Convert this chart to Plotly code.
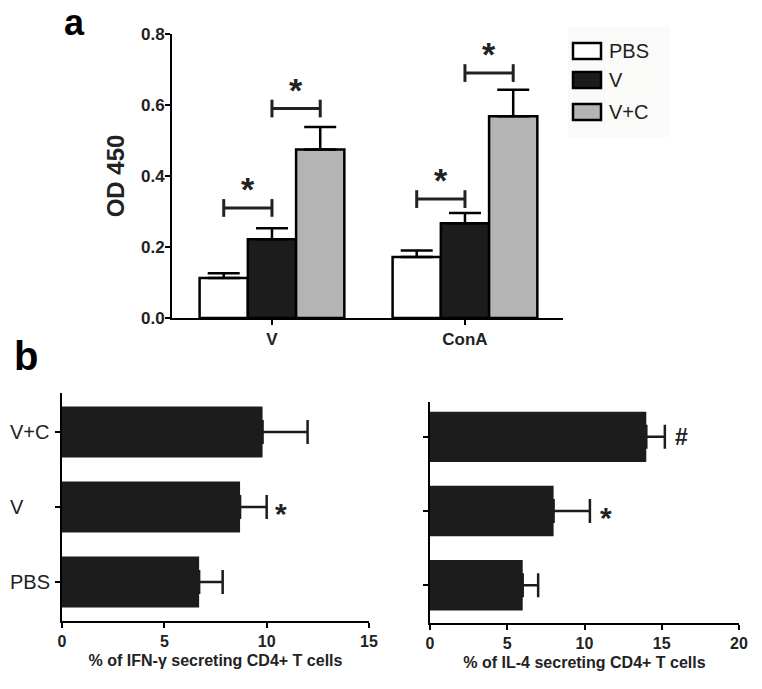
import plotly.graph_objects as go

# panel a: OD 450 by stimulus
stimuli = ["V", "ConA"]
groups = ["PBS", "V", "V+C"]
od_mean = {"PBS": [0.113, 0.172], "V": [0.222, 0.267], "V+C": [0.475, 0.568]}
od_err = {"PBS": [0.013, 0.018], "V": [0.031, 0.029], "V+C": [0.063, 0.075]}
bar_colors = {"PBS": "#ffffff", "V": "#1c1c1c", "V+C": "#b4b4b4"}

# significance brackets: (stimulus index, from group, to group, level)
brackets = [(0, 0, 1, 0.31), (0, 1, 2, 0.59), (1, 0, 1, 0.335), (1, 1, 2, 0.69)]

# panel b: flow cytometry
b_groups = ["PBS", "V", "V+C"]
ifn_mean = [6.7, 8.7, 9.8]
ifn_err = [1.15, 1.3, 2.2]
ifn_marks = ["", "*", ""]
il4_mean = [6.0, 8.0, 14.0]
il4_err = [1.0, 2.35, 1.2]
il4_marks = ["", "*", "#"]

FONT = "Liberation Sans, Arial, sans-serif"
DARK = "#1c1c1c"
W, H = 762, 689
xpos = list(range(len(stimuli)))

fig = go.Figure()

for g in groups:
    fig.add_trace(go.Bar(
        x=xpos, y=od_mean[g], name=g,
        marker=dict(color=bar_colors[g], line=dict(color="black", width=2.5)),
        error_y=dict(type="data", array=od_err[g], arrayminus=[0] * len(stimuli),
                     symmetric=False, color="black", thickness=2.5, width=16),
        xaxis="x", yaxis="y"))

for vals, errs, xa, ya in [(ifn_mean, ifn_err, "x2", "y2"), (il4_mean, il4_err, "x3", "y3")]:
    fig.add_trace(go.Bar(
        y=b_groups, x=vals, orientation="h", width=0.68,
        marker=dict(color=DARK, line=dict(width=0)),
        error_x=dict(type="data", array=errs, arrayminus=[0] * 3, symmetric=False,
                     color=DARK, thickness=2.5, width=12),
        xaxis=xa, yaxis=ya, showlegend=False))

# brackets + stars on panel a
offs = [-0.25, 0.0, 0.25]
for si, g0, g1, lvl in brackets:
    x0, x1 = si + offs[g0], si + offs[g1]
    fig.add_trace(go.Scatter(
        x=[x0, x0, None, x0, x1, None, x1, x1],
        y=[lvl - 0.025, lvl + 0.025, None, lvl, lvl, None, lvl - 0.025, lvl + 0.025],
        mode="lines", line=dict(color="#222", width=3),
        xaxis="x", yaxis="y", showlegend=False, hoverinfo="skip"))
    fig.add_annotation(x=(x0 + x1) / 2, y=lvl, xref="x", yref="y",
                       text="*", showarrow=False, yanchor="bottom", yshift=-2,
                       font=dict(family=FONT, size=34, color="#222", weight="bold"))

# marks on panel b
for i, m in enumerate(ifn_marks):
    if m:
        fig.add_annotation(x=ifn_mean[i] + ifn_err[i] + 0.3, y=b_groups[i], xref="x2", yref="y2",
                           text=m, showarrow=False, xanchor="left", yshift=-6,
                           font=dict(family=FONT, size=30, color="#222", weight="bold"))
for i, m in enumerate(il4_marks):
    if m:
        fig.add_annotation(x=il4_mean[i] + il4_err[i] + 0.5, y=b_groups[i], xref="x3", yref="y3",
                           text=m, showarrow=False, xanchor="left",
                           yshift=-6 if m == "*" else 0,
                           font=dict(family=FONT, size=30 if m == "*" else 23, color="#222", weight="bold"))

# left-aligned category labels for left panel b
for g in b_groups:
    fig.add_annotation(x=8 / W, y=g, xref="paper", yref="y2", text=g, showarrow=False,
                       xanchor="left", yanchor="middle",
                       font=dict(family=FONT, size=20, color="#222"))

# custom legend for panel a
fig.add_shape(type="rect", xref="paper", yref="paper",
              x0=568 / W, x1=670 / W, y0=1 - 137 / H, y1=1 - 27 / H,
              fillcolor="#fafaf8", line=dict(width=0), layer="below")
for g, yc in zip(groups, [51, 80, 112]):
    fig.add_shape(type="rect", xref="paper", yref="paper",
                  x0=573 / W, x1=601 / W, y0=1 - (yc + 8) / H, y1=1 - (yc - 8) / H,
                  fillcolor=bar_colors[g], line=dict(color="black", width=2.5))
    fig.add_annotation(x=607 / W, y=1 - yc / H, xref="paper", yref="paper", text=g,
                       showarrow=False, xanchor="left", yanchor="middle",
                       font=dict(family=FONT, size=20, color="#222"))

# panel labels
fig.add_annotation(x=62 / W, y=1 - 0 / H, xref="paper", yref="paper", text="a",
                   showarrow=False, xanchor="left", yanchor="top",
                   font=dict(family=FONT, size=36, color="black", weight="bold"))
fig.add_annotation(x=12 / W, y=1 - 332 / H, xref="paper", yref="paper", text="b",
                   showarrow=False, xanchor="left", yanchor="top",
                   font=dict(family=FONT, size=40, color="black", weight="bold"))

axis_common = dict(showline=True, linecolor="black", linewidth=2, ticks="outside",
                   tickcolor="black", tickwidth=2, ticklen=5, showgrid=False, zeroline=False,
                   automargin=False)
bold16 = dict(family=FONT, size=16, color="#222", weight="bold")

fig.update_layout(
    width=W, height=H, margin=dict(l=0, r=0, t=0, b=0),
    paper_bgcolor="white", plot_bgcolor="rgba(0,0,0,0)",
    showlegend=False, barmode="group", bargap=0.25, bargroupgap=0,
    xaxis=dict(domain=[172 / W, 563 / W], range=[-0.518, 1.508],
               tickvals=xpos, ticktext=stimuli,
               anchor="y", tickfont=dict(family=FONT, size=17, color="#222", weight="bold"),
               **axis_common),
    yaxis=dict(domain=[1 - 318 / H, 1 - 34 / H], range=[0, 0.8], dtick=0.2, tickformat=".1f",
               anchor="x", ticklabelstandoff=-3,
               tickfont=dict(family=FONT, size=17, color="#222", weight="bold"),
               title=dict(text="OD 450", standoff=10,
                          font=dict(family=FONT, size=24, color="#222", weight="bold")),
               **axis_common),
    xaxis2=dict(domain=[62 / W, 369 / W], range=[0, 15], dtick=5, anchor="y2",
                tickfont=bold16,
                title=dict(text="% of IFN-γ secreting CD4+ T cells", standoff=6,
                           font=dict(family=FONT, size=16, color="#222", weight="bold")),
                **axis_common),
    yaxis2=dict(domain=[1 - 621 / H, 1 - 393 / H], type="category", range=[-0.52, 2.52],
                anchor="x2", showticklabels=False, **axis_common),
    xaxis3=dict(domain=[430 / W, 739 / W], range=[0, 20], dtick=5, anchor="y3",
                tickfont=bold16,
                title=dict(text="% of IL-4 secreting CD4+ T cells", standoff=6,
                           font=dict(family=FONT, size=16, color="#222", weight="bold")),
                **axis_common),
    yaxis3=dict(domain=[1 - 623 / H, 1 - 402 / H], type="category", range=[-0.51, 2.47],
                anchor="x3", showticklabels=False, **axis_common),
)

fig.write_html("out.html", config={"displayModeBar": False},
               post_script="document.body.style.margin='0';")
